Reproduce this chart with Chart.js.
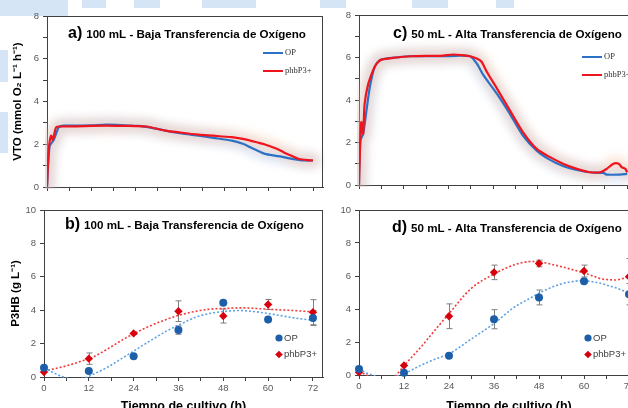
<!DOCTYPE html>
<html><head><meta charset="utf-8">
<script src="https://cdn.jsdelivr.net/npm/chart.js@4"></script>
<style>
html,body{margin:0;padding:0;background:#fff;width:628px;height:408px;overflow:hidden;}
#wrap{position:relative;width:628px;height:408px;overflow:hidden;background:#fff;}
canvas{position:absolute;}
.deco{position:absolute;background:#d6e5f6;}
</style></head><body>
<div id="wrap">
<div class="deco" style="left:0;top:0;width:68px;height:16px"></div>
<div class="deco" style="left:82px;top:0;width:24px;height:8px"></div>
<div class="deco" style="left:134px;top:0;width:26px;height:8px"></div>
<div class="deco" style="left:202px;top:0;width:54px;height:8px"></div>
<div class="deco" style="left:320px;top:0;width:26px;height:8px"></div>
<div class="deco" style="left:412px;top:0;width:36px;height:8px"></div>
<div class="deco" style="left:496px;top:0;width:18px;height:8px"></div>
<div class="deco" style="left:0;top:50px;width:8px;height:32px"></div>
<div class="deco" style="left:0;top:112px;width:8px;height:41px"></div>
<canvas id="ca" width="330" height="200" style="left:0;top:0"></canvas>
<canvas id="cc" width="360" height="200" style="left:310px;top:0"></canvas>
<canvas id="cb" width="330" height="220" style="left:0;top:200px"></canvas>
<canvas id="cd" width="360" height="220" style="left:310px;top:200px"></canvas>
</div>
<script>
// ---------- DATA ----------
// a) VTO, 100 mL
const aOpH  = [0,0.7,1.8,2.7,3.2,4.5,8,12,16,20,24,26,28,32,36,41,45,50,53,55,57,59,62,64,66,68,70,72];
const aOpV  = [0,1.9,2.2,2.6,2.8,2.87,2.87,2.88,2.92,2.9,2.86,2.84,2.78,2.64,2.52,2.4,2.3,2.17,2.02,1.86,1.7,1.55,1.46,1.4,1.33,1.27,1.24,1.24];
const aPhbH = [0,0.45,1.1,1.6,2,2.5,3.6,8,12,16,20,24,27,32,36,41,45,50,53,55,57,59,62,64,66,68,70,72];
const aPhbV = [0,1.7,2.4,2.2,2.5,2.8,2.83,2.84,2.86,2.87,2.86,2.85,2.83,2.64,2.55,2.45,2.4,2.33,2.25,2.17,2.08,1.99,1.8,1.63,1.47,1.32,1.27,1.24];
// c) VTO, 50 mL
const cOpH  = [0,0.35,1.1,2,2.9,4.2,5.6,7.4,10,13.6,18,22.6,26,29.8,31.6,33.4,37,40.5,44,47.7,51.3,54.9,58.5,62,65.6,66.5,70,72];
const cOpV  = [0,2.1,2.4,3.5,4.6,5.56,5.87,5.95,6.0,6.06,6.06,6.06,6.08,6.06,5.72,5.17,4.3,3.35,2.33,1.62,1.18,0.88,0.71,0.6,0.57,0.49,0.49,0.52];
const cPhbH = [0,0.2,0.6,1.1,1.5,2.4,3.8,4.7,6,10,14,18,22,25.3,28,29.8,31.6,32.9,34.3,37,40.5,44,47.7,51.3,54.9,58.5,62,64.8,66.5,68.3,69.7,70.6,71.5,72];
const cPhbV = [0,1.3,2.96,2.4,3.8,4.7,5.4,5.7,5.9,6.0,6.06,6.08,6.08,6.14,6.1,6.06,5.95,5.8,5.33,4.55,3.51,2.49,1.7,1.31,0.99,0.76,0.6,0.6,0.76,1.0,1.0,0.83,0.76,0.6];
// b) P3HB, 100 mL
const sampleH  = [0,12,24,36,48,60,72];
const bOp      = [0.56,0.36,1.24,2.81,4.44,3.45,3.53];
const bOpErr   = [0,0,0,0.25,0,0,0.45];
const bPhb     = [0.3,1.1,2.61,3.94,3.65,4.34,3.88];
const bPhbErr  = [0,0.34,0.06,0.62,0.42,0.3,0.75];
const bTrendH  = [0,2.5,5.2,8,11.4,12.2,16.8,21.2,24,28.3,32.8,36,40.7,45.2,48,52.4,56.9,61.4,66.7,72];
const bOpTrend = [0.56,0.26,0,-0.15,-0.02,0.06,0.56,1.16,1.55,2.15,2.75,3.1,3.59,3.84,3.92,3.98,3.9,3.75,3.55,3.39];
const bPhbTrend= [0.36,0.48,0.62,0.8,1.05,1.1,1.65,2.25,2.59,3.05,3.45,3.69,3.94,4.08,4.1,4.14,4.1,4.04,3.98,3.9];
// d) P3HB, 50 mL
const dOp      = [0.36,0.14,1.16,3.38,4.7,5.68,4.9];
const dOpErr   = [0,0,0,0.58,0.45,0.1,0.65];
const dPhb     = [0.16,0.58,3.56,6.22,6.76,6.3,5.96];
const dPhbErr  = [0,0,0.75,0.44,0.2,0.36,1.1];
const dTrendH  = [0,2.5,4.2,7,9.5,12,16.6,21,24,29.8,36,41.5,46,48,54,60,63,64.7,66.4,68.3,72];
const dOpTrend = [0.36,0.08,-0.05,-0.2,-0.1,0.08,0.6,1.02,1.28,2.16,3.12,4.12,4.7,4.96,5.52,5.72,5.62,5.55,5.42,5.3,4.96];
const dPhbTrend= [0.2,-0.05,-0.3,-0.4,-0.1,0.56,1.72,2.92,3.72,5.22,6.12,6.68,6.88,6.86,6.56,6.18,5.95,5.82,5.78,5.76,5.96];
// labels
const seriesNames = ['OP','phbP3+'];
const titles = {
  ca:['a)','100 mL - Baja Transferencia de Oxígeno'],
  cc:['c)','50 mL - Alta Transferencia de Oxígeno'],
  cb:['b)','100 mL - Baja Transferencia de Oxígeno'],
  cd:['d)','50 mL - Alta Transferencia de Oxígeno']
};
const vtoTitle = 'VTO (mmol O\u2082 L\u207B\u00B9 h\u207B\u00B9)';
const p3hbTitle = 'P3HB (g L\u207B\u00B9)';
const timeTitle = 'Tiempo de cultivo (h)';

// ---------- STYLE ----------
const BLUE='#2c72c4', RED='#f0141e';
const BLUE_M='#1d5ea8', RED_M='#d8000c';
const BLUE_D='#5ea2e2', RED_D='#f23a3a';
const HALO_B='rgba(160,188,232,0.32)', HALO_R='rgba(246,186,146,0.34)';
const AX='#404040', TXT='#595959';
const FF='"Liberation Sans", Arial, sans-serif';
Chart.defaults.font.family = FF;

const pts = (xs, ys) => xs.map((x,i)=>({x, y: ys[i]}));

const panels = {
  ca:{legend:'line', lx:263, ly:53, tx:68, ty:38},
  cc:{legend:'line', lx:272, ly:57, tx:83, ty:38},
  cb:{legend:'marker', lx:279, ly:138, tx:65, ty:29, errors:[{x:sampleH,y:bOp,e:bOpErr},{x:sampleH,y:bPhb,e:bPhbErr}]},
  cd:{legend:'marker', lx:278, ly:138, tx:82, ty:32, errors:[{x:sampleH,y:dOp,e:dOpErr},{x:sampleH,y:dPhb,e:dPhbErr}]}
};

const panelPlugin = {
  id:'panelPlugin',
  beforeDatasetDraw(chart,args){
    const ds = chart.data.datasets[args.index];
    if (ds.halo){ chart.ctx.save(); chart.ctx.filter='blur(4px)'; }
  },
  afterDatasetDraw(chart,args){
    const ds = chart.data.datasets[args.index];
    if (ds.halo){ chart.ctx.restore(); }
  },
  beforeDatasetsDraw(chart){
    const p = panels[chart.canvas.id]; if(!p || !p.errors) return;
    const ctx=chart.ctx, xs=chart.scales.x, ys=chart.scales.y;
    ctx.save(); ctx.strokeStyle='#7f7f7f'; ctx.lineWidth=1;
    p.errors.forEach(s=>{
      s.x.forEach((xv,i)=>{
        const d=s.e[i]; if(!d) return;
        const px=Math.round(xs.getPixelForValue(xv))+0.5;
        const y1=ys.getPixelForValue(s.y[i]+d), y2=ys.getPixelForValue(s.y[i]-d);
        ctx.beginPath();
        ctx.moveTo(px,y1); ctx.lineTo(px,y2);
        ctx.moveTo(px-3,y1); ctx.lineTo(px+3,y1);
        ctx.moveTo(px-3,y2); ctx.lineTo(px+3,y2);
        ctx.stroke();
      });
    });
    ctx.restore();
  },
  afterDraw(chart){
    const p = panels[chart.canvas.id]; if(!p) return;
    const ctx=chart.ctx, a=chart.chartArea;
    ctx.save();
    // box
    ctx.strokeStyle=AX; ctx.lineWidth=1;
    ctx.beginPath();
    ctx.moveTo(a.left, Math.round(a.top)+0.5); ctx.lineTo(a.right, Math.round(a.top)+0.5);
    ctx.moveTo(Math.round(a.right)-0.5, a.top); ctx.lineTo(Math.round(a.right)-0.5, a.bottom);
    ctx.stroke();
    // title
    const t = titles[chart.canvas.id];
    ctx.fillStyle='#000'; ctx.textBaseline='alphabetic'; ctx.textAlign='left';
    ctx.font='bold 16px '+FF; ctx.fillText(t[0], p.tx, p.ty);
    const w = ctx.measureText(t[0]).width;
    ctx.font='bold 11.6px '+FF; ctx.fillText(t[1], p.tx+w+4, p.ty);
    // legend
    if (p.legend==='line'){
      ctx.lineWidth=2;
      [[BLUE,0],[RED,18]].forEach(([c,dy],i)=>{
        ctx.strokeStyle=c; ctx.beginPath(); ctx.moveTo(p.lx,p.ly+dy); ctx.lineTo(p.lx+20,p.ly+dy); ctx.stroke();
        ctx.fillStyle='#333'; ctx.font='8.5px "Liberation Serif", serif'; ctx.textBaseline='middle';
        ctx.fillText(seriesNames[i], p.lx+22, p.ly+dy);
      });
    } else {
      ctx.fillStyle=BLUE_M; ctx.beginPath(); ctx.arc(p.lx,p.ly,3.6,0,Math.PI*2); ctx.fill();
      ctx.fillStyle=RED_M; ctx.beginPath();
      const dy=p.ly+16.5;
      ctx.moveTo(p.lx,dy-3.8); ctx.lineTo(p.lx+3.8,dy); ctx.lineTo(p.lx,dy+3.8); ctx.lineTo(p.lx-3.8,dy); ctx.closePath(); ctx.fill();
      ctx.fillStyle='#404040'; ctx.font='9.5px '+FF; ctx.textBaseline='middle';
      ctx.fillText(seriesNames[0], p.lx+5, p.ly);
      ctx.fillText(seriesNames[1], p.lx+5, dy);
    }
    ctx.restore();
  }
};

function xScale(max, yw, xh, labels, withTitle){
  return {
    type:'linear', min:0, max:max,
    afterFit(s){ s.height = xh; },
    afterBuildTicks(s){ s.ticks = s.ticks.filter(t => Math.abs(t.value/6 - Math.round(t.value/6))<1e-6); },
    ticks:{stepSize:6, includeBounds:false, autoSkip:false, maxRotation:0, padding:2, color:TXT, font:{size:9.5},
      callback:(v)=> labels && v%12===0 ? String(v) : ''},
    grid:{drawOnChartArea:false, drawTicks:true, tickLength:4, color:AX},
    border:{color:AX, width:1},
    title: withTitle ? {display:true, text:timeTitle, color:'#000', font:{size:12.5, weight:'bold', lineHeight:1.2}, padding:{top:0,bottom:6}} : {display:false}
  };
}
function yScale(max, step, yw, title, tpad){
  return {
    type:'linear', min:0, max:max,
    afterFit(s){ s.width = yw; },
    ticks:{stepSize:step, autoSkip:false, padding:4, color:TXT, font:{size:9.5},
      callback:(v)=> v%2===0 ? String(v) : ''},
    grid:{drawOnChartArea:false, drawTicks:true, tickLength:4, color:AX},
    border:{color:AX, width:1},
    title: title ? {display:true, text:title, color:'#000', font:{size:11.5, weight:'bold', lineHeight:1.2}, padding:{top:tpad, bottom:0}} : {display:false}
  };
}
function lineSet(xs, ys, color, order){
  return {data:pts(xs,ys), borderColor:color, borderWidth:2.2, pointRadius:0, tension:0.25, order:order, fill:false};
}
function haloSet(xs, ys, color){
  return {data:pts(xs,ys), borderColor:color, borderWidth:15, pointRadius:0, tension:0.3, order:5, fill:false, halo:true, clip:2, borderCapStyle:'round', borderJoinStyle:'round'};
}
function trendSet(xs, ys, color){
  return {data:pts(xs,ys), borderColor:color, borderWidth:1.6, borderDash:[2,2], pointRadius:0, cubicInterpolationMode:'monotone', order:3, fill:false, clip:1};
}
function markerSet(ys, color, style){
  return {data:pts(sampleH,ys), showLine:false, pointRadius:style==='circle'?4:4.2, pointStyle:style,
    pointBackgroundColor:color, pointBorderColor:color, pointBorderWidth:0, order:0, clip:false};
}
function make(id, datasets, scales, pad){
  new Chart(document.getElementById(id), {
    type:'line',
    data:{datasets},
    options:{responsive:false, animation:false, events:[], devicePixelRatio:1,
      layout:{padding:pad},
      plugins:{legend:{display:false}, tooltip:{enabled:false}},
      scales:scales},
    plugins:[panelPlugin]
  });
}

make('ca', [
  lineSet(aPhbH,aPhbV,RED,0), lineSet(aOpH,aOpV,BLUE,1),
  haloSet(aPhbH,aPhbV,HALO_R), haloSet(aOpH,aOpV,HALO_B)
], {x:xScale(74.7,47,13,false,false), y:yScale(8,1,47,vtoTitle,11)}, {top:16,right:7,left:0,bottom:0});

make('cc', [
  lineSet(cPhbH,cPhbV,RED,0), lineSet(cOpH,cOpV,BLUE,1),
  haloSet(cPhbH,cPhbV,HALO_R), haloSet(cOpH,cOpV,HALO_B)
], {x:xScale(80,49,15,false,false), y:yScale(8,1,49,null,0)}, {top:15,right:13,left:0,bottom:0});

make('cb', [
  markerSet(bOp,BLUE_M,'circle'), markerSet(bPhb,RED_M,'rectRot'),
  trendSet(bTrendH,bOpTrend,BLUE_D), trendSet(bTrendH,bPhbTrend,RED_D)
], {x:xScale(74.7,44,43,true,true), y:yScale(10,2,44,p3hbTitle,9)}, {top:10,right:7,left:0,bottom:0});

make('cd', [
  markerSet(dOp,BLUE_M,'circle'), markerSet(dPhb,RED_M,'rectRot'),
  trendSet(dTrendH,dOpTrend,BLUE_D), trendSet(dTrendH,dPhbTrend,RED_D)
], {x:xScale(80,49,45,true,true), y:yScale(10,2,49,null,0)}, {top:10,right:11,left:0,bottom:0});
</script>
</body></html>
